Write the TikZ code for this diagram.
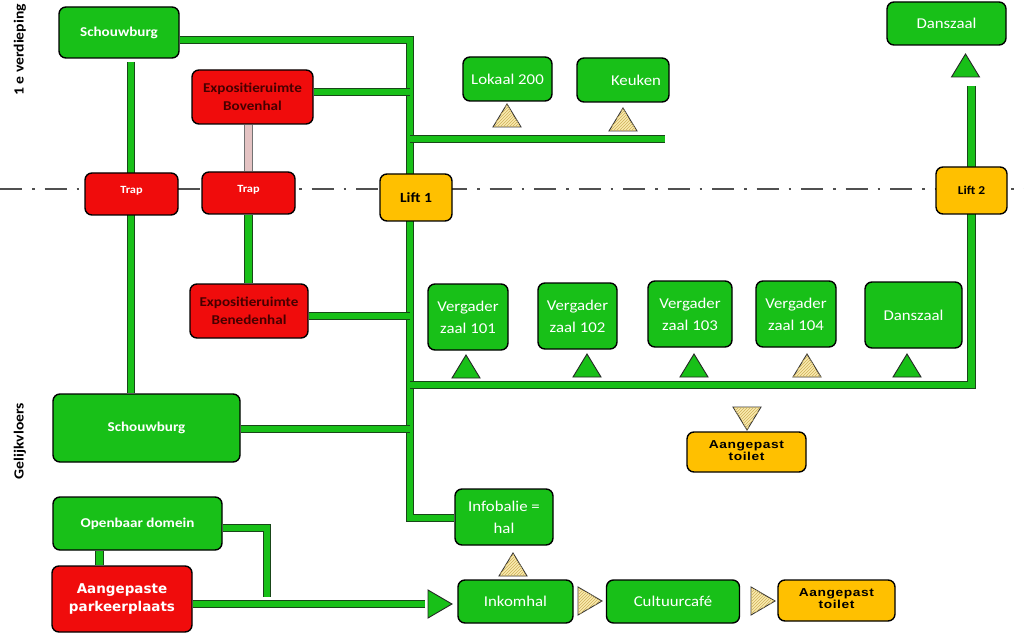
\documentclass[tikz,border=0pt]{standalone}
\usepackage{fontspec}
\setmainfont{Carlito}[FakeStretch=1.12]
\newfontfamily\arialb{Liberation Sans}[FakeStretch=1.2, LetterSpace=5]
\newfontfamily\verd{DejaVu Sans}
\usetikzlibrary{patterns}
\definecolor{boxG}{RGB}{24,192,24}
\definecolor{barG}{RGB}{24,192,24}
\definecolor{edgeG}{RGB}{25,70,25}
\definecolor{boxR}{RGB}{240,12,12}
\definecolor{boxO}{RGB}{255,192,0}
\definecolor{hatchY}{RGB}{250,236,175}
\definecolor{hatchL}{RGB}{205,175,90}
\definecolor{pinkbar}{RGB}{228,195,195}
\definecolor{txtR}{RGB}{70,0,0}
\definecolor{lineGr}{RGB}{80,80,80}
\pgfdeclarelayer{bg}
\pgfsetlayers{bg,main}
\newcommand\triup[3]{\draw[#1] (#2,#3) ++(-14,0) -- ++(28,0) -- ++(-14,-23) -- cycle;}
\newcommand\tridown[3]{\draw[#1] (#2,#3) ++(-14,0) -- ++(28,0) -- ++(-14,23) -- cycle;}
\newcommand\triright[3]{\draw[#1] (#2,#3) ++(0,-14) -- ++(0,28) -- ++(24,-14) -- cycle;}
\begin{document}
\begin{tikzpicture}[x=1pt,y=-1pt,
  room/.style={draw=black, line width=1.4pt, rounded corners=7pt, fill=boxG,
    text=white, align=center, inner sep=0pt},
  redroom/.style={room, fill=boxR},
  liftroom/.style={room, fill=boxO, text=black},
  sz/.style 2 args={minimum width=#1pt, minimum height=#2pt},
  bar/.style={draw=edgeG, line width=1pt, double=barG, double distance=6.5pt},
  pbar/.style={draw=black!55, line width=0.9pt, double=pinkbar, double distance=6.5pt},
  hatchtri/.style={draw=black!80, line width=0.9pt, fill=hatchY,
    postaction={pattern=north east lines, pattern color=hatchL}},
  greentri/.style={draw=black!85, line width=0.9pt, fill=boxG},
  dashdot/.style={draw=lineGr, line width=2.6pt, dash pattern=on 22pt off 10pt on 2.5pt off 10pt},
  fbig/.style={font=\fontsize{15}{22}\selectfont},
  fbold/.style={font=\bfseries\fontsize{13.5}{15}\selectfont},
  fexpo/.style={font=\bfseries\fontsize{13.5}{18}\selectfont},
  ftoil/.style={font=\arialb\bfseries\fontsize{11.5}{12}\selectfont},
  side/.style={rotate=90, font=\bfseries\fontsize{14}{15}\selectfont, text=black}]
\useasboundingbox (0,0) rectangle (1024,636);

% ---- nodes ----
\node[room, sz={120}{51}, fbold] (schT) at (119,32.5) {Schouwburg};
\node[redroom, sz={121}{54}, fexpo, text=txtR] (bov) at (252.5,97) {Expositieruimte\\Bovenhal};
\node[redroom, sz={93}{42}, font=\bfseries\fontsize{11}{12}\selectfont] (trap1) at (131.5,194) {\raisebox{9pt}{Trap}};
\node[redroom, sz={93}{42}, font=\bfseries\fontsize{11}{12}\selectfont] (trap2) at (248.5,193) {\raisebox{9pt}{Trap}};
\node[liftroom, sz={72}{47}, font=\bfseries\fontsize{14}{16}\selectfont] (lift1) at (416,197.5) {Lift 1};
\node[room, sz={89}{44}, fbig] (lok) at (507.5,79) {Lokaal 200};
\node[room, sz={92}{44}, fbig] (keu) at (623,80) {\hspace*{26pt}Keuken};
\node[room, sz={119}{43}, fbig] (dansT) at (946.5,23.5) {Danszaal};
\node[liftroom, sz={71}{47}, font=\bfseries\fontsize{12}{14}\selectfont] (lift2) at (971.5,190.5) {Lift 2};
\node[redroom, sz={118}{54}, fexpo, text=txtR] (bened) at (249,311) {Expositieruimte\\Benedenhal};
\node[room, sz={80}{66}, fbig] (v101) at (468,317) {Vergader\\zaal 101};
\node[room, sz={79}{66}, fbig] (v102) at (577.5,316) {Vergader\\zaal 102};
\node[room, sz={84}{66}, fbig] (v103) at (690,314) {Vergader\\zaal 103};
\node[room, sz={80}{66}, fbig] (v104) at (796,314) {Vergader\\zaal 104};
\node[room, sz={97}{66}, fbig] (dansB) at (913.5,315) {Danszaal};
\node[room, sz={187}{68}, fbold] (schB) at (146.5,428) {Schouwburg};
\node[liftroom, sz={119}{40}, ftoil] (toilM) at (746.5,452) {\raisebox{4pt}{\begin{tabular}{@{}c@{}}Aangepast\\toilet\end{tabular}}};
\node[room, sz={98}{56}, fbig] (info) at (504,517) {Infobalie =\\hal};
\node[room, sz={169}{53}, fbold] (openb) at (137.5,523.5) {Openbaar domein};
\node[redroom, sz={140}{66}, font=\verd\bfseries\fontsize{13.5}{18}\selectfont] (park) at (122,599) {Aangepaste\\parkeerplaats};
\node[room, sz={115}{43}, fbig] (inkom) at (515.5,601.5) {Inkomhal};
\node[room, sz={133}{43}, fbig] (cafe) at (673,601.5) {Cultuurcafé};
\node[liftroom, sz={117}{41}, ftoil] (toilB) at (836.5,600.5) {\raisebox{4pt}{\begin{tabular}{@{}c@{}}Aangepast\\toilet\end{tabular}}};

\node[side] (lab1) at (20,50) {1 e verdieping};
\node[side] (lab2) at (20,441) {Gelijkvloers};

% ---- markers ----
\triup{hatchtri}{507}{127}
\triup{hatchtri}{623}{131}
\triup{greentri}{965.5}{77}
\triup{greentri}{466}{378}
\triup{greentri}{587}{377}
\triup{greentri}{694}{377}
\triup{hatchtri}{807}{377}
\triup{greentri}{907}{377}
\tridown{hatchtri}{747}{407}
\triup{hatchtri}{513}{576}
\triright{hatchtri}{578}{601}
\triright{hatchtri}{751}{601}
\triright{greentri}{428}{604}

% ---- bars ----
\begin{pgfonlayer}{bg}
\fill[white] (0,0) rectangle (1024,636);
\draw[dashdot] (0,189) -- (1024,189);
\coordinate (jTop) at (410,40);
\coordinate (jInfo) at (410,518);
\coordinate (jBov) at (410,92);
\coordinate (jK) at (410,139);
\coordinate (kEnd) at (665,139);
\coordinate (jBen) at (410,316);
\coordinate (jSch) at (410,429);
\coordinate (jRow) at (410,385);
\coordinate (cRowR) at (971.5,385);
\coordinate (cL2top) at (971.5,86);
\coordinate (tA) at (131,62);
\coordinate (oC) at (267,528);
\coordinate (oE) at (267,597);
\coordinate (pE) at (425,604);
\draw[bar] (schT.east |- jTop) -- (jTop) -- (jInfo) -- (info.west |- jInfo);
\draw[bar] (bov.east |- jBov) -- (jBov);
\draw[bar] (jK) -- (kEnd);
\draw[bar] (bened.east |- jBen) -- (jBen);
\draw[bar] (schB.east |- jSch) -- (jSch);
\draw[bar] (jRow) -- (cRowR) -- (cL2top);
\draw[bar] (tA) -- (tA |- schB.north);
\draw[pbar] (trap2.north |- bov.south) -- (trap2.north);
\draw[bar] (trap2.south) -- (trap2.south |- bened.north);
\draw[bar] (openb.east |- oC) -- (oC) -- (oE);
\draw[bar] ([xshift=47pt]openb.south west) -- ([xshift=47pt]openb.south west |- park.north);
\draw[bar] (park.east |- pE) -- (pE);
\end{pgfonlayer}
\end{tikzpicture}
\end{document}
